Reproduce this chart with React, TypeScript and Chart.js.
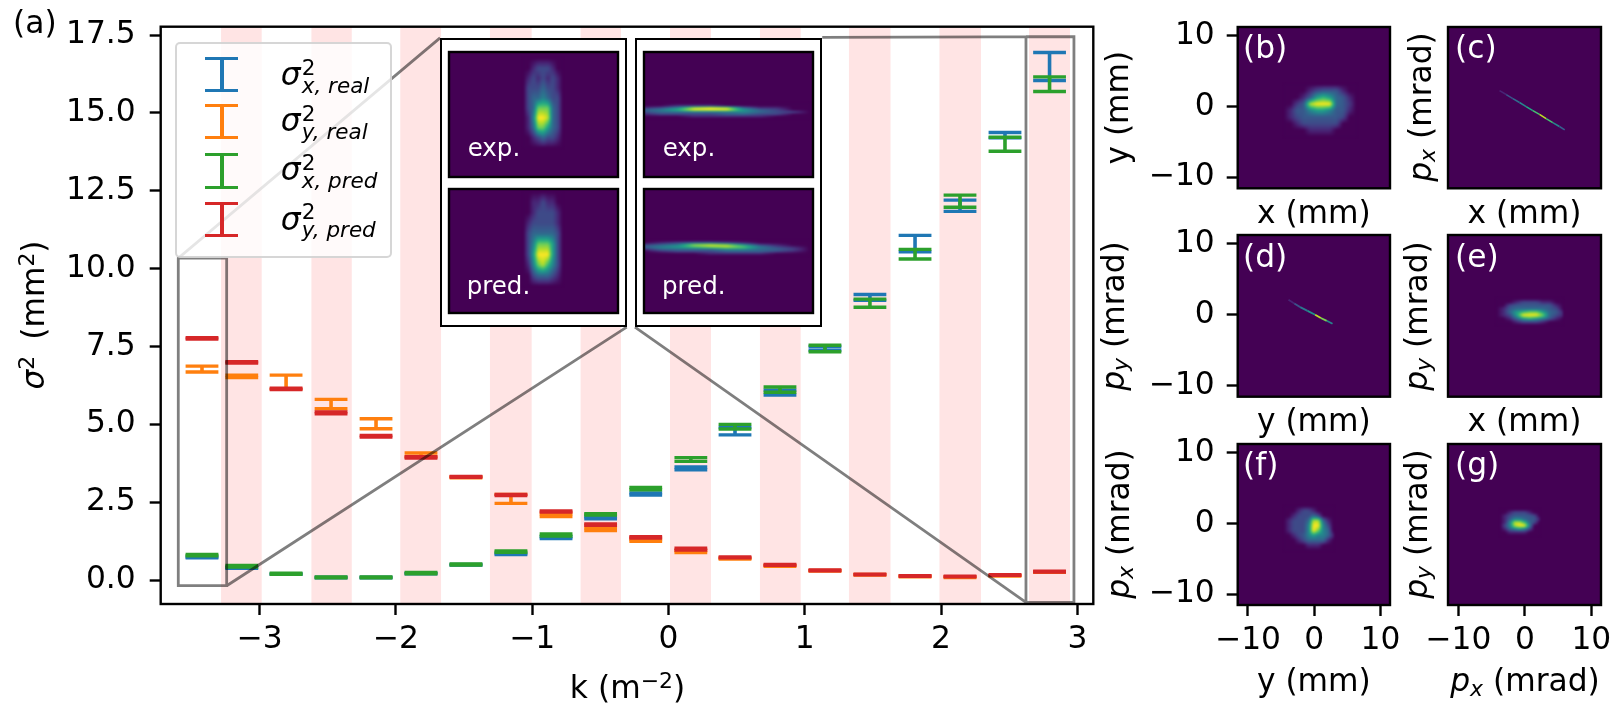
import React, { useEffect, useRef } from "react";
import { Chart, registerables } from "chart.js";

Chart.register(...registerables);

const FONT = '"DejaVu Sans"';
const FS = 31.3;

// ---------- panel (a) data ----------
const kValues = [-3.423, -3.131, -2.806, -2.476, -2.146, -1.816, -1.486, -1.156, -0.825, -0.498, -0.167, 0.164, 0.488, 0.818, 1.148, 1.478, 1.809, 2.139, 2.469, 2.796];
const xRealLow = [0.71, 0.38, 0.18, 0.07, 0.07, 0.2, 0.48, 0.82, 1.33, 1.97, 2.73, 3.54, 4.66, 5.94, 7.38, 8.98, 10.54, 11.84, 14.2, 16.04];
const xRealHigh = [0.74, 0.4, 0.2, 0.09, 0.09, 0.22, 0.5, 0.85, 1.39, 2.03, 2.8, 3.63, 4.9, 6.1, 7.5, 9.17, 11.07, 12.2, 14.37, 16.94];
const yRealLow = [6.68, 6.5, 6.13, 5.5, 4.86, 3.96, 3.28, 2.46, 2.04, 1.59, 1.24, 0.88, 0.67, 0.44, 0.29, 0.16, 0.1, 0.08, 0.13, 0.25];
const yRealHigh = [6.87, 6.58, 6.58, 5.8, 5.18, 4.08, 3.32, 2.75, 2.13, 1.68, 1.3, 0.95, 0.7, 0.47, 0.31, 0.18, 0.13, 0.11, 0.15, 0.27];
const xPredLow = [0.78, 0.42, 0.18, 0.07, 0.07, 0.2, 0.48, 0.89, 1.41, 2.09, 2.9, 3.81, 4.85, 6.03, 7.33, 8.76, 10.31, 11.97, 13.77, 15.69];
const xPredHigh = [0.82, 0.47, 0.22, 0.1, 0.1, 0.24, 0.52, 0.93, 1.48, 2.13, 2.97, 3.93, 5.0, 6.2, 7.54, 9.02, 10.62, 12.36, 14.22, 16.16];
const yPredLow = [7.74, 6.97, 6.12, 5.34, 4.59, 3.92, 3.3, 2.71, 2.18, 1.76, 1.35, 0.96, 0.71, 0.47, 0.3, 0.17, 0.12, 0.1, 0.15, 0.26];
const yPredHigh = [7.78, 7.01, 6.16, 5.4, 4.64, 3.96, 3.33, 2.75, 2.22, 1.8, 1.39, 1.02, 0.74, 0.5, 0.32, 0.19, 0.14, 0.12, 0.17, 0.28];

const stripeStart = [-3.283, -2.62, -1.968, -1.31, -0.645, 0.011, 0.671, 1.324, 1.988, 2.645];
const stripeEnd = [-2.985, -2.324, -1.669, -1.004, -0.349, 0.312, 0.97, 1.629, 2.293, 2.946];

const xTicksMain = [-3, -2, -1, 0, 1, 2, 3];
const yTicksMain = [0, 2.5, 5, 7.5, 10, 12.5, 15, 17.5];
const smallTicks = [-10, 0, 10];

const zoomLineX = [-3.597, -3.242, -3.242, -3.597, -3.597, -1.676, null, -3.242, -0.307, null, 2.623, 2.975, 2.975, 2.623, 2.623, null, 2.623, -0.246, null, 2.975, 1.128];
const zoomLineY = [10.34, 10.34, -0.183, -0.183, 10.34, 17.41, null, -0.183, 8.12, null, 17.45, 17.45, -0.716, -0.716, 17.45, null, -0.716, 8.12, null, 17.45, 17.43];

const legendSubs = ["x, real", "y, real", "x, pred", "y, pred"];
const seriesColors = ["#1f77b4", "#ff7f0e", "#2ca02c", "#d62728"];

// ---------- heat maps: intensity, 0-9 ----------
type Grid = { x: [number, number]; y: [number, number]; rows: number[][] };

const gridB: Grid = {
  x: [-4.63, 6.44], y: [3.2, -4.33],
  rows: [
    [0, 0, 0, 0, 0, 0, 0, 0, 0, 0, 0, 0],
    [0, 0, 0, 0, 1, 2, 2.5, 2.5, 2.5, 1, 0, 0],
    [0, 0, 0, 1, 2.5, 5, 6, 5, 3, 2.5, 1, 0],
    [0, 0, 1.5, 2.5, 8, 9, 9, 9, 3, 2.5, 1.5, 0],
    [0, 1, 2.5, 2.5, 4, 5, 5, 4, 2.5, 2.5, 1, 0],
    [0, 1, 2, 2.5, 2.5, 2.5, 2.5, 2.5, 2.5, 2, 0, 0],
    [0, 0, 1, 2, 2, 2, 2, 2, 2, 0, 0, 0],
    [0, 0, 0, 0, 1, 1, 1, 1, 0, 0, 0, 0],
    [0, 0, 0, 0, 0, 0, 0, 0, 0, 0, 0, 0],
  ],
};
const gridE: Grid = {
  x: [-4.28, 5.79], y: [2.3, -1.46],
  rows: [
    [0, 0, 0, 0, 0, 0, 0, 0, 0, 0, 0],
    [0, 0, 0, 1, 2, 2, 2, 1, 1, 0, 0],
    [0, 0, 2, 2.5, 2.5, 2.5, 2.5, 2.5, 2.5, 1, 0],
    [0, 1, 2.5, 3, 3, 3, 3, 3, 2.5, 2, 0],
    [0, 1, 3, 5, 6, 7, 7, 5, 3, 2.5, 1],
    [0, 1, 2, 5, 9, 9, 9, 7, 3, 2, 1],
    [0, 0, 1, 3, 5, 6, 5, 4, 2.5, 1, 0],
    [0, 0, 0, 1, 2, 2, 2, 1, 0, 0, 0],
    [0, 0, 0, 0, 0, 0, 0, 0, 0, 0, 0],
  ],
};
const gridF: Grid = {
  x: [-4.63, 2.92], y: [2.54, -3.81],
  rows: [
    [0, 0, 0, 0, 0, 0, 0, 0, 0, 0, 0],
    [0, 0, 0, 1, 2, 2, 1, 0, 0, 0, 0],
    [0, 0, 1, 2, 2, 2, 3, 2, 0, 0, 0],
    [0, 1, 2, 2, 2, 3, 8, 8, 3, 1, 0],
    [0, 1, 2, 2, 2, 4, 9, 9, 4, 2, 0],
    [0, 1, 2, 2, 2, 4, 9, 7, 4, 3, 0],
    [0, 0, 1, 2, 2.5, 4, 5, 4, 4, 3, 1],
    [0, 0, 0, 1, 2, 3, 3, 3, 3, 1, 0],
    [0, 0, 0, 0, 0, 1, 1, 1, 0, 0, 0],
    [0, 0, 0, 0, 0, 0, 0, 0, 0, 0, 0],
  ],
};
const gridG: Grid = {
  x: [-3.78, 2.27], y: [2.07, -1.69],
  rows: [
    [0, 0, 0, 0, 0, 0, 0, 0, 0],
    [0, 0, 1, 2, 2, 2, 1, 0, 0],
    [0, 1, 2, 2.5, 2.5, 2.5, 2.5, 2, 0],
    [0, 1, 2.5, 4, 4, 3, 2.5, 2.5, 1],
    [0, 1, 4, 8, 8, 6, 3, 2, 0],
    [0, 2, 4, 8, 9, 9, 4, 0, 0],
    [0, 1, 3, 4, 5, 4, 2, 0, 0],
    [0, 0, 1, 1, 1, 1, 0, 0, 0],
    [0, 0, 0, 0, 0, 0, 0, 0, 0],
  ],
};
const gridExpLeft: Grid = {
  x: [223, 343], y: [18, 288],
  rows: [
    [0, 0, 0, 0, 0, 0, 0, 0, 0],
    [0, 0, 1, 2, 2, 2, 1, 0, 0],
    [0, 1, 2, 1, 2, 1, 2, 1, 0],
    [0, 2, 2, 2, 3, 2, 2, 1, 0],
    [0, 2, 3, 3, 4, 3, 2, 2, 0],
    [0, 2, 3, 7, 7, 7, 3, 2, 0],
    [0, 1, 4, 9, 9, 8, 3, 2, 0],
    [0, 1, 3, 7, 7, 5, 3, 2, 0],
    [0, 0, 1, 2, 3, 2, 2, 1, 0],
    [0, 0, 0, 0, 0, 0, 0, 0, 0],
  ],
};
const gridPredLeft: Grid = {
  x: [223, 343], y: [7, 292],
  rows: [
    [0, 0, 0, 0, 0, 0, 0, 0, 0],
    [0, 0, 1, 1, 2, 1, 1, 0, 0],
    [0, 0, 1, 2, 2, 2, 2, 1, 0],
    [0, 1, 2, 2, 2, 2, 2, 1, 0],
    [0, 2, 3, 3, 3, 3, 3, 2, 0],
    [0, 2, 4, 7, 7, 7, 5, 2, 0],
    [0, 2, 5, 9, 9, 9, 5, 2, 0],
    [0, 1, 4, 7, 8, 6, 4, 2, 0],
    [0, 0, 2, 3, 3, 3, 2, 1, 0],
    [0, 0, 0, 0, 0, 0, 0, 0, 0],
  ],
};
const gridExpRight: Grid = {
  x: [0, 500], y: [152, 200],
  rows: [
    [0, 0, 0, 0, 0, 0, 0, 0, 0, 0, 0],
    [0, 0, 1, 1, 1, 0, 0, 0, 0, 0, 0],
    [1, 2, 4, 8, 9, 8, 3, 1, 1, 0, 0],
    [3, 4, 6, 9, 9, 9, 5, 3, 2, 0, 0],
    [2, 3, 3, 3, 3, 3, 4, 3, 2, 2, 0],
    [1, 2, 2, 2, 2, 3, 3, 2, 2, 0, 0],
    [0, 0, 0, 1, 1, 1, 1, 1, 0, 0, 0],
    [0, 0, 0, 0, 0, 0, 0, 0, 0, 0, 0],
  ],
};
const gridPredRight: Grid = {
  x: [0, 500], y: [154, 202],
  rows: [
    [0, 0, 0, 0, 0, 0, 0, 0, 0, 0, 0],
    [0, 1, 2, 3, 3, 2, 1, 0, 0, 0, 0],
    [2, 3, 4, 8, 9, 8, 5, 2, 1, 0, 0],
    [3, 4, 5, 6, 7, 8, 7, 4, 2, 1, 0],
    [1, 3, 3, 3, 3, 4, 4, 3, 3, 2, 0],
    [0, 1, 2, 2, 2, 3, 3, 3, 2, 1, 0],
    [0, 0, 0, 0, 1, 1, 1, 1, 0, 0, 0],
    [0, 0, 0, 0, 0, 0, 0, 0, 0, 0, 0],
  ],
};

const traceCX = [-3.8, -2.8, -1.8, -0.8, 0.2, 1.2, 2.2, 3.2, 4.2, 5.2, 6.0];
const traceCY = [2.26, 1.7, 1.13, 0.57, 0.0, -0.57, -1.1, -1.7, -2.26, -2.82, -3.3];
const traceCV = [0.1, 0.25, 0.35, 0.45, 0.6, 0.7, 0.9, 0.7, 0.45, 0.3, 0.1];
const traceDX = [-3.88, -3, -2.11, -1, 0.15, 1, 1.9, 2.77];
const traceDY = [2.12, 1.6, 1.08, 0.55, 0, -0.45, -0.85, -1.27];
const traceDV = [0.1, 0.25, 0.4, 0.5, 0.9, 0.8, 0.45, 0.1];

// ---------- helpers ----------
const VIRIDIS = [
  [68, 1, 84], [72, 36, 117], [65, 68, 135], [53, 95, 141], [42, 120, 142], [33, 145, 140],
  [34, 168, 132], [68, 191, 112], [122, 209, 81], [189, 223, 38], [253, 231, 37],
];
function viridis(t: number) {
  const v = Math.max(0, Math.min(1, t)) * 10;
  const i = Math.min(9, Math.floor(v));
  const f = v - i;
  return VIRIDIS[i].map((c, j) => c + (VIRIDIS[i + 1][j] - c) * f);
}
const viridisCss = (t: number) => `rgb(${viridis(t).map(Math.round).join(",")})`;

const minus = (v: number) => String(v).replace("-", "\u2212");

const framePlugin = {
  id: "frame",
  afterDraw(chart: any) {
    const { left, top, right, bottom } = chart.chartArea;
    const ctx = chart.ctx;
    ctx.save();
    ctx.strokeStyle = "#000";
    ctx.lineWidth = 2.4;
    ctx.strokeRect(left, top, right - left, bottom - top);
    ctx.restore();
  },
};

function heatPlugin(grid: Grid | null) {
  return {
    id: "heat",
    beforeDatasetsDraw(chart: any) {
      const { left, top, right, bottom } = chart.chartArea;
      const ctx = chart.ctx;
      ctx.save();
      ctx.fillStyle = viridisCss(0);
      ctx.fillRect(left, top, right - left, bottom - top);
      if (grid) {
        const x0 = chart.scales.x.getPixelForValue(grid.x[0]);
        const x1 = chart.scales.x.getPixelForValue(grid.x[1]);
        const y0 = chart.scales.y.getPixelForValue(grid.y[0]);
        const y1 = chart.scales.y.getPixelForValue(grid.y[1]);
        const w = Math.max(2, Math.round(x1 - x0));
        const h = Math.max(2, Math.round(y1 - y0));
        const off = document.createElement("canvas");
        off.width = w;
        off.height = h;
        const oc = off.getContext("2d")!;
        const img = oc.createImageData(w, h);
        const R = grid.rows.length - 1;
        const C = grid.rows[0].length - 1;
        for (let py = 0; py < h; py++) {
          const gy = (py / (h - 1)) * R;
          const r0 = Math.min(R - 1, Math.floor(gy));
          const fy = gy - r0;
          for (let px = 0; px < w; px++) {
            const gx = (px / (w - 1)) * C;
            const c0 = Math.min(C - 1, Math.floor(gx));
            const fx = gx - c0;
            const v =
              grid.rows[r0][c0] * (1 - fx) * (1 - fy) +
              grid.rows[r0][c0 + 1] * fx * (1 - fy) +
              grid.rows[r0 + 1][c0] * (1 - fx) * fy +
              grid.rows[r0 + 1][c0 + 1] * fx * fy;
            const col = viridis(v / 9);
            const k = (py * w + px) * 4;
            img.data[k] = col[0];
            img.data[k + 1] = col[1];
            img.data[k + 2] = col[2];
            img.data[k + 3] = 255;
          }
        }
        oc.putImageData(img, 0, 0);
        ctx.beginPath();
        ctx.rect(left, top, right - left, bottom - top);
        ctx.clip();
        ctx.filter = "blur(0.8px)";
        ctx.drawImage(off, x0, y0);
      }
      ctx.restore();
    },
  };
}

function errorSeries(label: string, color: string, low: number[], high: number[], order: number) {
  return {
    type: "scatter",
    label,
    order,
    showLine: true,
    spanGaps: false,
    borderColor: color,
    borderWidth: 3.6,
    pointStyle: "line",
    pointRadius: 16.4,
    pointBorderColor: color,
    pointBorderWidth: 3.4,
    clip: false,
    data: kValues.flatMap((k, i) => [
      { x: k, y: low[i] },
      { x: k, y: high[i] },
      { x: k, y: null },
    ]),
  };
}

const tickFont = { family: FONT, size: FS };

function MainChart() {
  const ref = useRef<HTMLCanvasElement>(null);
  useEffect(() => {
    const stripes = {
      id: "stripes",
      beforeDatasetsDraw(chart: any) {
        const { top, bottom } = chart.chartArea;
        const ctx = chart.ctx;
        ctx.save();
        ctx.fillStyle = "rgb(255,228,228)";
        stripeStart.forEach((s, i) => {
          const a = chart.scales.x.getPixelForValue(s);
          const b = chart.scales.x.getPixelForValue(stripeEnd[i]);
          ctx.fillRect(a, top, b - a, bottom - top);
        });
        ctx.restore();
      },
    };
    const chart = new Chart(ref.current!, {
      type: "scatter",
      data: {
        datasets: [
          errorSeries("x real", seriesColors[0], xRealLow, xRealHigh, 4),
          errorSeries("y real", seriesColors[1], yRealLow, yRealHigh, 3),
          errorSeries("x pred", seriesColors[2], xPredLow, xPredHigh, 2),
          errorSeries("y pred", seriesColors[3], yPredLow, yPredHigh, 1),
          {
            type: "scatter",
            label: "zoom",
            order: 0,
            showLine: true,
            spanGaps: false,
            borderColor: "rgba(0,0,0,0.5)",
            borderWidth: 2.8,
            pointRadius: 0,
            data: zoomLineX.map((x, i) => ({ x, y: zoomLineY[i] })),
          },
        ] as any,
      },
      options: {
        responsive: false,
        animation: false,
        events: [],
        layout: { autoPadding: false, padding: { top: 26.7, right: 6.7, left: 0, bottom: 0 } },
        plugins: { legend: { display: false }, tooltip: { enabled: false } },
        scales: {
          x: {
            type: "linear",
            min: -3.726,
            max: 3.117,
            border: { display: false },
            grid: { drawOnChartArea: false, tickLength: 11, tickWidth: 2.4, tickColor: "#000" },
            ticks: { color: "#000", font: tickFont, padding: 6, autoSkip: false, maxRotation: 0, includeBounds: false, callback: (v: any) => minus(v) },
            afterBuildTicks: (s: any) => { s.ticks = xTicksMain.map((value) => ({ value })); },
            afterFit: (s: any) => { s.height = 99; s.paddingLeft = 0; s.paddingRight = 0; },
          },
          y: {
            type: "linear",
            min: -0.77,
            max: 17.77,
            border: { display: false },
            grid: { drawOnChartArea: false, tickLength: 11, tickWidth: 2.4, tickColor: "#000" },
            ticks: { color: "#000", font: tickFont, padding: 14, autoSkip: false, includeBounds: false, callback: (v: any) => Number(v).toFixed(1) },
            afterBuildTicks: (s: any) => { s.ticks = yTicksMain.map((value) => ({ value })); },
            afterFit: (s: any) => { s.width = 160.7; s.paddingTop = 0; s.paddingBottom = 0; },
          },
        },
      } as any,
      plugins: [stripes, framePlugin],
    });
    return () => chart.destroy();
  }, []);
  return <canvas ref={ref} width={1100} height={703} style={{ position: "absolute", left: 0, top: 0 }} />;
}

type PanelProps = {
  left: number; top: number; right: number; bottom: number;
  xTicks: boolean; yTicks: boolean;
  canvasBottom: number;
  grid?: Grid;
  trace?: { x: number[]; y: number[]; v: number[]; width: number };
  xTitle?: string;
  yTitle?: string;
  canvasLeft: number;
};

function SmallPanel(p: PanelProps) {
  const ref = useRef<HTMLCanvasElement>(null);
  const padTop = 14;
  const padRight = 24;
  const yW = p.left - p.canvasLeft;
  const xH = p.canvasBottom - p.bottom;
  useEffect(() => {
    const datasets: any[] = p.trace
      ? [{
          type: "scatter", showLine: true, pointRadius: 0, borderWidth: p.trace.width,
          data: p.trace.x.map((x, i) => ({ x, y: p.trace!.y[i] })),
          segment: { borderColor: (c: any) => viridisCss(p.trace!.v[c.p0DataIndex]) },
        }]
      : [{ type: "scatter", data: [] }];
    const axis = (tick: boolean, title: string | undefined, fit: any, padding: number) => ({
      type: "linear",
      border: { display: false },
      grid: { drawOnChartArea: false, drawTicks: tick, tickLength: 11, tickWidth: 2.4, tickColor: "#000" },
      ticks: { display: tick, color: "#000", font: tickFont, padding, autoSkip: false, maxRotation: 0, includeBounds: false, callback: (v: any) => minus(v) },
      afterBuildTicks: (s: any) => { s.ticks = smallTicks.map((value) => ({ value })); },
      afterFit: fit,
      title: { display: !!title, text: title || "", color: "#000", font: { family: FONT, size: FS }, padding: 0 },
    });
    const chart = new Chart(ref.current!, {
      type: "scatter",
      data: { datasets },
      options: {
        responsive: false, animation: false, events: [],
        layout: { autoPadding: false, padding: { top: padTop, right: padRight, left: 0, bottom: 0 } },
        plugins: { legend: { display: false }, tooltip: { enabled: false } },
        scales: {
          x: { ...axis(p.xTicks, p.xTitle, (s: any) => { s.height = xH; s.paddingLeft = 0; s.paddingRight = 0; }, 6), min: -11.55, max: 11.45 },
          y: { ...axis(p.yTicks, p.yTitle, (s: any) => { s.width = yW; s.paddingTop = 0; s.paddingBottom = 0; }, 12), min: -11.55, max: 11.25 },
        },
      } as any,
      plugins: [heatPlugin(p.grid || null), framePlugin],
    });
    return () => chart.destroy();
  }, []);
  return (
    <canvas
      ref={ref}
      width={Math.round(yW + (p.right - p.left) + padRight)}
      height={Math.round(padTop + (p.bottom - p.top) + xH)}
      style={{ position: "absolute", left: p.canvasLeft, top: p.top - padTop }}
    />
  );
}

function InsetImage({ left, top, width, height, grid }: { left: number; top: number; width: number; height: number; grid: Grid }) {
  const ref = useRef<HTMLCanvasElement>(null);
  const pad = 2;
  useEffect(() => {
    const chart = new Chart(ref.current!, {
      type: "scatter",
      data: { datasets: [{ data: [] }] },
      options: {
        responsive: false, animation: false, events: [],
        layout: { autoPadding: false, padding: pad },
        plugins: { legend: { display: false }, tooltip: { enabled: false } },
        scales: {
          x: { type: "linear", display: false, min: 0, max: 508 },
          y: { type: "linear", display: false, min: 0, max: 373, reverse: true },
        },
      } as any,
      plugins: [heatPlugin(grid), framePlugin],
    });
    return () => chart.destroy();
  }, []);
  return <canvas ref={ref} width={width + 2 * pad} height={height + 2 * pad} style={{ position: "absolute", left: left - pad, top: top - pad }} />;
}

const baseText: React.CSSProperties = { position: "absolute", fontFamily: FONT, whiteSpace: "nowrap", lineHeight: 0 };

function T({ x, y, size = FS, color = "#000", center, italic, children }: any) {
  return (
    <span style={{ ...baseText, left: x, top: y - 0.346 * size, fontSize: size, color, fontStyle: italic ? "italic" : "normal", transform: center ? "translateX(-50%)" : undefined }}>
      {children}
    </span>
  );
}
const Sub = ({ children }: any) => <span style={{ fontSize: "0.7em", position: "relative", top: "0.2em" }}>{children}</span>;
const Sup = ({ children }: any) => <span style={{ fontSize: "0.7em", position: "relative", top: "-0.45em" }}>{children}</span>;

function Rot({ cx, cy, children }: any) {
  return (
    <span style={{ position: "absolute", left: cx, top: cy, fontFamily: FONT, fontSize: FS, color: "#000", whiteSpace: "nowrap", lineHeight: 1, transform: "translate(-50%,-50%) rotate(-90deg)" }}>
      {children}
    </span>
  );
}
const PLabel = ({ axis }: { axis: string }) => (
  <>
    <i>p</i>
    <Sub><i>{axis}</i></Sub> (mrad)
  </>
);

function Legend() {
  const capTops = [[57, 89], [104, 136], [153, 186], [202, 234]];
  const baselines = [85, 131, 180, 229.5];
  return (
    <>
      <div style={{ position: "absolute", left: 175, top: 42, width: 213, height: 212, background: "rgba(255,255,255,0.8)", border: "2px solid rgba(204,204,204,0.8)", borderRadius: 5 }} />
      {legendSubs.map((s, i) => (
        <React.Fragment key={s}>
          <div style={{ position: "absolute", left: 205, top: capTops[i][0], width: 33, height: 3, background: seriesColors[i] }} />
          <div style={{ position: "absolute", left: 205, top: capTops[i][1], width: 33, height: 3, background: seriesColors[i] }} />
          <div style={{ position: "absolute", left: 219.7, top: capTops[i][0], width: 4, height: capTops[i][1] - capTops[i][0], background: seriesColors[i] }} />
          <T x={280.7} y={baselines[i]} size={FS} italic>σ</T>
          <T x={301.7} y={baselines[i] - 10} size={21.5}>2</T>
          <T x={301.7} y={baselines[i] + 8} size={21.5} italic>{s}</T>
        </React.Fragment>
      ))}
    </>
  );
}

export default function App() {
  const colL = [1237.7, 1448];
  const colR = [1390, 1600.7];
  const rowT = [26.7, 235, 444];
  const rowB = [188.3, 396.7, 605];
  const canvasBottoms = [234, 442, 702];
  return (
    <div style={{ position: "absolute", left: 0, top: 0, width: 1614, height: 703, overflow: "hidden", background: "#fff" }}>
      <MainChart />
      <Legend />

      <div style={{ position: "absolute", left: 440, top: 37.7, width: 186.7, height: 289.3, boxSizing: "border-box", background: "#fff", border: "2.4px solid #000" }} />
      <div style={{ position: "absolute", left: 635, top: 37.7, width: 187.3, height: 289.3, boxSizing: "border-box", background: "#fff", border: "2.4px solid #000" }} />
      <InsetImage left={449} top={52} width={169} height={125} grid={gridExpLeft} />
      <InsetImage left={449} top={189} width={169} height={124} grid={gridPredLeft} />
      <InsetImage left={644} top={52} width={169} height={125} grid={gridExpRight} />
      <InsetImage left={644} top={189} width={169} height={124} grid={gridPredRight} />
      <T x={467.7} y={156.7} size={24.5} color="#fff">exp.</T>
      <T x={466.7} y={294} size={24.5} color="#fff">pred.</T>
      <T x={662.7} y={156.7} size={24.5} color="#fff">exp.</T>
      <T x={662} y={294} size={24.5} color="#fff">pred.</T>

      <SmallPanel canvasLeft={1101} left={colL[0]} right={colR[0]} top={rowT[0]} bottom={rowB[0]} xTicks={false} yTicks canvasBottom={canvasBottoms[0]} grid={gridB} xTitle="x (mm)" yTitle="y (mm)" />
      <SmallPanel canvasLeft={1408} left={colL[1]} right={colR[1]} top={rowT[0]} bottom={rowB[0]} xTicks={false} yTicks={false} canvasBottom={canvasBottoms[0]} trace={{ x: traceCX, y: traceCY, v: traceCV, width: 1.6 }} xTitle="x (mm)" />
      <SmallPanel canvasLeft={1101} left={colL[0]} right={colR[0]} top={rowT[1]} bottom={rowB[1]} xTicks={false} yTicks canvasBottom={canvasBottoms[1]} trace={{ x: traceDX, y: traceDY, v: traceDV, width: 1.8 }} xTitle="y (mm)" />
      <SmallPanel canvasLeft={1408} left={colL[1]} right={colR[1]} top={rowT[1]} bottom={rowB[1]} xTicks={false} yTicks={false} canvasBottom={canvasBottoms[1]} grid={gridE} xTitle="x (mm)" />
      <SmallPanel canvasLeft={1101} left={colL[0]} right={colR[0]} top={rowT[2]} bottom={rowB[2]} xTicks yTicks canvasBottom={canvasBottoms[2]} grid={gridF} xTitle="y (mm)" />
      <SmallPanel canvasLeft={1408} left={colL[1]} right={colR[1]} top={rowT[2]} bottom={rowB[2]} xTicks yTicks={false} canvasBottom={canvasBottoms[2]} grid={gridG} />

      <T x={13} y={33} size={FS}>(a)</T>
      <T x={1243} y={58} color="#fff">(b)</T>
      <T x={1455} y={58} color="#fff">(c)</T>
      <T x={1243} y={266.7} color="#fff">(d)</T>
      <T x={1455} y={266.7} color="#fff">(e)</T>
      <T x={1243} y={475} color="#fff">(f)</T>
      <T x={1455} y={475} color="#fff">(g)</T>

      <T x={627.5} y={698} center>k (m<Sup>−2</Sup>)</T>
      <Rot cx={34} cy={315}><i>σ</i><Sup>2</Sup><span style={{ marginLeft: 6 }}> (mm<Sup>2</Sup>)</span></Rot>
      <Rot cx={1420.5} cy={107}><PLabel axis="x" /></Rot>
      <Rot cx={1114} cy={316}><PLabel axis="y" /></Rot>
      <Rot cx={1416.5} cy={316}><PLabel axis="y" /></Rot>
      <Rot cx={1118.5} cy={524}><PLabel axis="x" /></Rot>
      <Rot cx={1416.5} cy={524}><PLabel axis="y" /></Rot>
      <T x={1525} y={691} center><PLabel axis="x" /></T>
    </div>
  );
}
